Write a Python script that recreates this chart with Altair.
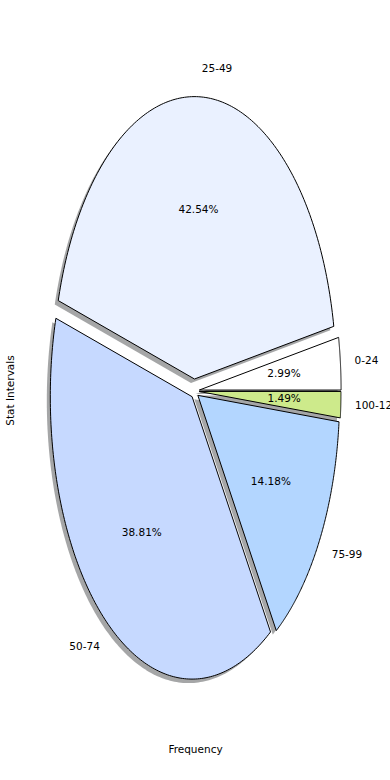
import altair as alt
import pandas as pd

categories = ["0-24", "25-49", "50-74", "75-99", "100-124"]
counts = [4, 57, 52, 19, 2]
explode = [0.036, 0.0425, 0.025, 0.03, 0.035]
colors = ["#ffffff", "#eaf1ff", "#c6d9ff", "#b3d6ff", "#cdea8b"]

N = 160
FONT = "DejaVu Sans"
FS = 10.5

# plot scale: centre of pie / radii in pixels
W, H = 390, 780
cx, cy, rx, ry = 194.2, 391.0, 141.8, 282.4
xdom = [-cx / rx, (W - cx) / rx]
ydom = [-(H - cy) / ry, cy / ry]

df = pd.DataFrame({"cat": categories, "count": counts,
                   "explode": explode, "idx": list(range(len(categories)))})

base = (
    alt.Chart(df)
    .transform_joinaggregate(total="sum(count)")
    .transform_window(cum="sum(count)", sort=[alt.SortField("idx")], frame=[None, 0])
    .transform_calculate(t0="2*PI*(datum.cum - datum.count)/datum.total")
    .transform_calculate(t1="2*PI*datum.cum/datum.total")
    .transform_calculate(mid="(datum.t0 + datum.t1)/2")
    .transform_calculate(ox="datum.explode*cos(datum.mid)")
    .transform_calculate(oy="datum.explode*sin(datum.mid)")
)

xs = alt.Scale(domain=xdom, nice=False, zero=False)
ys = alt.Scale(domain=ydom, nice=False, zero=False)

xaxis = alt.Axis(domain=False, ticks=False, labels=False, grid=False,
                 title="Frequency", titleFont=FONT, titleFontSize=FS,
                 titleFontWeight="normal", titleColor="#000000",
                 titleBaseline="middle", titleY=-31)
yaxis = alt.Axis(domain=False, ticks=False, labels=False, grid=False,
                 title="Stat Intervals", titleFont=FONT, titleFontSize=FS,
                 titleFontWeight="normal", titleColor="#000000",
                 titleAngle=-90, titleAlign="center", titleBaseline="middle",
                 titleX=10, titleY=H / 2)

poly = (
    base.transform_calculate(k=f"sequence(0, {N + 3})")
    .transform_flatten(["k"])
    .transform_calculate(a=f"datum.t0 + (datum.t1 - datum.t0)*clamp(datum.k - 1, 0, {N})/{N}")
    .transform_calculate(edge=f"(datum.k > 0 && datum.k < {N + 2}) ? 1 : 0")
    .transform_calculate(px="datum.ox + datum.edge*cos(datum.a)")
    .transform_calculate(py="datum.oy + datum.edge*sin(datum.a)")
)

shadow = poly.mark_line(filled=True, fill="#4b4d50", fillOpacity=0.5,
                        strokeWidth=0, xOffset=-3.5, yOffset=4).encode(
    x=alt.X("px:Q", scale=xs, axis=xaxis),
    y=alt.Y("py:Q", scale=ys, axis=yaxis),
    order="k:Q",
    detail="cat:N",
)

wedges = poly.mark_line(filled=True, stroke="#000000", strokeWidth=1,
                        strokeJoin="miter", opacity=1).encode(
    x=alt.X("px:Q", scale=xs),
    y=alt.Y("py:Q", scale=ys),
    order="k:Q",
    color=alt.Color("cat:N", scale=alt.Scale(domain=categories, range=colors), legend=None),
)

lab = (
    base.transform_calculate(lx="datum.ox + 1.1*cos(datum.mid)")
    .transform_calculate(ly="datum.oy + 1.1*sin(datum.mid)")
    .transform_calculate(qx="datum.ox + 0.6*cos(datum.mid)")
    .transform_calculate(qy="datum.oy + 0.6*sin(datum.mid)")
    .transform_calculate(pct="format(100*datum.count/datum.total, '.2f') + '%'")
)

lab_right = lab.transform_filter("datum.lx >= 0").mark_text(
    align="left", baseline="middle", font=FONT, fontSize=FS, color="#000000").encode(
    x=alt.X("lx:Q", scale=xs), y=alt.Y("ly:Q", scale=ys), text="cat:N")
lab_left = lab.transform_filter("datum.lx < 0").mark_text(
    align="right", baseline="middle", font=FONT, fontSize=FS, color="#000000").encode(
    x=alt.X("lx:Q", scale=xs), y=alt.Y("ly:Q", scale=ys), text="cat:N")
pct = lab.mark_text(align="center", baseline="middle", font=FONT, fontSize=FS,
                    color="#000000").encode(
    x=alt.X("qx:Q", scale=xs), y=alt.Y("qy:Q", scale=ys), text="pct:N")

chart = (
    alt.layer(shadow, wedges, lab_right, lab_left, pct)
    .properties(width=W, height=H, padding=0, autosize=alt.AutoSizeParams(type="none"),
                background="#ffffff")
    .configure_view(stroke=None)
)

chart.save("out.html", embed_options={"renderer": "svg", "actions": False})
